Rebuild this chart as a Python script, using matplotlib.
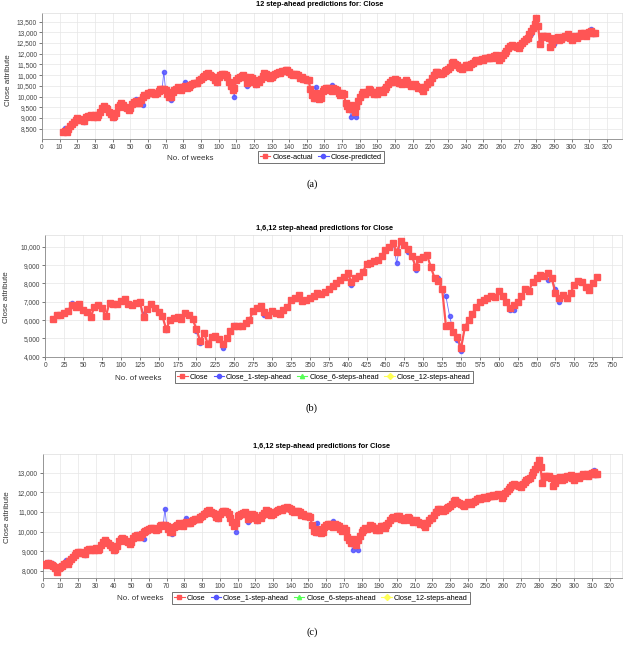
import numpy as np
import matplotlib
matplotlib.use("Agg")
import matplotlib.pyplot as plt
from matplotlib.lines import Line2D
from matplotlib.ticker import FuncFormatter, MultipleLocator

plt.rcParams['font.family'] = ['Liberation Sans', 'DejaVu Sans']

# ---------------- data: weekly Close, weeks 1..313 (panels a and c) ----------------
close_ac = [
    8350, 8300, 8380, 8330, 8280, 8220, 8120, 7950, 8150, 8200,
    8250, 8330, 8400, 8350, 8500, 8620, 8720, 8820, 8900, 8980,
    8960, 8920, 8900, 8850, 9050, 9100, 9080, 9120, 9060, 9140,
    9050, 9120, 9300, 9480, 9550, 9460, 9400, 9300, 9200, 9060,
    9100, 9250, 9500, 9620, 9680, 9620, 9520, 9460, 9370, 9450,
    9650, 9750, 9800, 9700, 9720, 9850, 10000, 10050, 10080, 10150,
    10180, 10200, 10150, 10100, 10150, 10280, 10350, 10330, 10350, 10300,
    10120, 10000, 9980, 10220, 10300, 10350, 10450, 10400, 10300, 10450,
    10500, 10420, 10450, 10520, 10600, 10620, 10650, 10620, 10750, 10800,
    10900, 10950, 11050, 11100, 11000, 10950, 10900, 10750, 10700, 10900,
    11000, 11050, 11050, 11000, 10900, 10700, 10500, 10300, 10420, 10770,
    10850, 10900, 10950, 11000, 10900, 10650, 10800, 10900, 10850, 10700,
    10600, 10750, 10700, 10820, 10950, 11080, 11050, 10900, 10850, 10900,
    11000, 11050, 11100, 11150, 11100, 11180, 11200, 11250, 11220, 11150,
    11050, 11000, 11050, 11050, 11000, 10850, 10900, 10800, 10800, 10780,
    10750, 10350, 10050, 9950, 10150, 10050, 9900, 9950, 10250, 10350,
    10380, 10400, 10300, 10250, 10400, 10350, 10300, 10150, 10050, 10180,
    10100, 9700, 9550, 9420, 9600, 9450, 9300, 9550, 9780, 10000,
    10100, 10200, 10120, 10200, 10350, 10300, 10200, 10100, 10200, 10100,
    10300, 10280, 10200, 10350, 10450, 10600, 10700, 10750, 10700, 10800,
    10780, 10650, 10650, 10600, 10700, 10750, 10700, 10600, 10500, 10550,
    10600, 10500, 10400, 10450, 10350, 10250, 10450, 10600, 10700, 10680,
    10850, 11000, 11150, 11150, 11100, 11050, 11100, 11200, 11250, 11300,
    11400, 11550, 11620, 11500, 11450, 11400, 11350, 11300, 11400, 11480,
    11450, 11400, 11500, 11550, 11650, 11700, 11680, 11700, 11750, 11720,
    11780, 11800, 11820, 11850, 11800, 11880, 11920, 11850, 11720, 11800,
    11950, 12050, 12150, 12250, 12350, 12400, 12380, 12350, 12300, 12250,
    12400, 12500, 12600, 12700, 12750, 12900, 13050, 13200, 13400, 13650,
    13300, 12450, 12850, 12850, 12800, 12850, 12750, 12300, 12450, 12650,
    12750, 12800, 12650, 12700, 12800, 12850, 12800, 12900, 12750, 12650,
    12800, 12850, 12750, 12850, 12950, 12900, 12950, 12850, 12950, 13000,
    13050, 12950, 12950,
]
# weeks where the prediction visibly departs from the actual value
pred_ac_weeks = [3, 5, 10, 13, 14, 24, 41, 53, 57, 69, 73, 81, 99, 109, 116, 121,
                 154, 155, 164, 175, 178, 222, 234, 269, 277, 282, 290, 311, 312]
pred_ac_vals = [8450, 8420, 8150, 8550, 8500, 8800, 9000, 9880, 9620, 11150, 9850, 10700,
                10650, 10000, 10500, 10550, 9900, 10450, 10550, 9050, 9050, 11100, 11600,
                12250, 12900, 12550, 12450, 13150, 12900]

# ---------------- data: panel b, every 5 weeks from week 10 ----------------
close_b = [
    6040, 6300, 6250, 6360, 6500, 6820, 6700, 6900, 6540, 6450,
    6150, 6730, 6800, 6650, 6200, 6950, 6850, 6900, 7040, 7130,
    6900, 6820, 6950, 7000, 6150, 6600, 6900, 6650, 6460, 6200,
    5500, 6000, 6100, 6150, 6050, 6400, 6250, 6050, 5500, 4850,
    5300, 4700, 5100, 5150, 4950, 4700, 5000, 5400, 5650, 5700,
    5650, 5850, 6000, 6500, 6650, 6750, 6450, 6300, 6500, 6400,
    6350, 6550, 6700, 7100, 7200, 7350, 7050, 7100, 7200, 7300,
    7450, 7400, 7550, 7700, 7850, 8000, 8200, 8350, 8550, 8100,
    8300, 8400, 8600, 9050, 9100, 9200, 9300, 9500, 9800, 10000,
    10200, 9700, 10300, 10100, 9900, 9500, 8900, 9350, 9450, 9550,
    8900, 8300, 8150, 7700, 5700, 5750, 5350, 5100, 4450, 5600,
    6000, 6350, 6700, 7000, 7100, 7180, 7300, 7250, 7600, 7300,
    7000, 6650, 6800, 7000, 7300, 7700, 7600, 8100, 8300, 8450,
    8400, 8550, 8300, 7450, 7200, 7350, 7200, 7500, 7900, 8150,
    8050, 7800, 7650, 8000, 8350,
]
pred_b_weeks = [35, 130, 160, 200, 205, 235, 250, 290, 405, 465, 480, 490,
                520, 530, 535, 545, 550, 615, 620, 665, 675, 680]
pred_b_vals = [6950, 6350, 5450, 5400, 4750, 4500, 5750, 6300, 7900, 9100, 9700, 8750,
               8300, 7300, 6200, 4900, 4300, 6550, 6550, 8200, 7700, 7000]

RED = '#FF5555'
BLUE = '#5555FF'
GREEN = '#55FF55'
YELLOW = '#FFFF55'

W, H = 624, 645
fig = plt.figure(figsize=(W / 100, H / 100), dpi=100)


def ax_rect(l, t, r, b):
    return [l / W, 1 - b / H, (r - l) / W, (b - t) / H]


def style_axes(ax, xmax, ylo, yhi, xstep, ystep):
    ax.set_xlim(0, xmax)
    ax.set_ylim(ylo, yhi)
    ax.xaxis.set_major_locator(MultipleLocator(xstep))
    ax.yaxis.set_major_locator(MultipleLocator(ystep))
    ax.yaxis.set_major_formatter(FuncFormatter(lambda v, p: f"{int(v):,}"))
    ax.tick_params(labelsize=4.8, length=2, width=0.5, colors='#444444', pad=1.5)
    ax.grid(True, color='#e6e6e6', linewidth=0.5)
    ax.set_axisbelow(True)
    for s in ['left', 'bottom']:
        ax.spines[s].set_color('#888888')
        ax.spines[s].set_linewidth(0.6)
    for s in ['top', 'right']:
        ax.spines[s].set_color('#dddddd')
        ax.spines[s].set_linewidth(0.5)


def draw(ax, weeks, actual, pred, ms_red, lw_red):
    ax.plot(weeks, pred, color=BLUE, lw=0.6, marker='o', ms=3.0, mec=BLUE, mfc=BLUE,
            alpha=0.85, zorder=2)
    ax.plot(weeks, actual, color=RED, lw=lw_red, marker='s', ms=ms_red, mec=RED, mfc=RED,
            zorder=3)


def legend_handles(labels):
    specs = [(RED, 's'), (BLUE, 'o'), (GREEN, '^'), (YELLOW, 'D')]
    return [Line2D([0], [0], color=c, marker=m, ms=3, lw=0.8) for (c, m), _ in zip(specs, labels)]


def add_legend(ax, labels, cx, cy):
    leg = ax.legend(legend_handles(labels), labels, loc='center', ncol=len(labels),
                    bbox_to_anchor=(cx / W, 1 - cy / H), bbox_transform=fig.transFigure,
                    fontsize=5.3, frameon=True, fancybox=False, edgecolor='#333333',
                    handlelength=1.4, handletextpad=0.3, columnspacing=0.7,
                    borderpad=0.35, borderaxespad=0)
    leg.get_frame().set_linewidth(0.6)


# full weekly arrays
weeks_ac = np.arange(1, len(close_ac) + 1)
act_ac = np.array(close_ac, dtype=float)
pred_ac = act_ac.copy()
pred_ac[np.array(pred_ac_weeks) - 1] = pred_ac_vals

weeks_b = np.arange(10, 10 + 5 * len(close_b), 5)
act_b = np.array(close_b, dtype=float)
pred_b = act_b.copy()
for wk, v in zip(pred_b_weeks, pred_b_vals):
    pred_b[np.where(weeks_b == wk)[0][0]] = v

# ---------------- panel (a) ----------------
axa = fig.add_axes(ax_rect(42, 13, 622, 139))
style_axes(axa, 328.5, 8020, 13900, 10, 500)
draw(axa, weeks_ac[11:], act_ac[11:], pred_ac[11:], 4.2, 1.6)
fig.text(320 / W, 1 - 5 / H, '12 step-ahead predictions for: Close', ha='center', va='center',
         fontsize=5.3, fontweight='bold')
fig.text(9 / W, 1 - 80 / H, 'Close attribute', rotation=90, ha='center', va='center', fontsize=5.8,
         color='#333333')
fig.text(190 / W, 1 - 158 / H, 'No. of weeks', ha='center', va='center', fontsize=5.8, color='#333333')
add_legend(axa, ['Close-actual', 'Close-predicted'], 321, 157)
fig.text(312 / W, 1 - 184 / H, '(a)', ha='center', va='center', fontsize=7.5, family='Liberation Serif')

# ---------------- panel (b) ----------------
axb = fig.add_axes(ax_rect(45.3, 235, 622, 357))
style_axes(axb, 763, 3985, 10640, 25, 1000)
draw(axb, weeks_b, act_b, pred_b, 4.8, 1.6)
fig.text(325 / W, 1 - 228 / H, '1,6,12 step-ahead predictions for Close', ha='center', va='center',
         fontsize=5.3, fontweight='bold')
fig.text(7 / W, 1 - 297 / H, 'Close attribute', rotation=90, ha='center', va='center', fontsize=5.8,
         color='#333333')
fig.text(138 / W, 1 - 378 / H, 'No. of weeks', ha='center', va='center', fontsize=5.8, color='#333333')
add_legend(axb, ['Close', 'Close_1-step-ahead', 'Close_6-steps-ahead', 'Close_12-steps-ahead'], 324, 377)
fig.text(312 / W, 1 - 408 / H, '(b)', ha='center', va='center', fontsize=7.5, family='Liberation Serif')

# ---------------- panel (c) ----------------
axc = fig.add_axes(ax_rect(42.7, 454, 622, 578))
style_axes(axc, 327, 7630, 13950, 10, 1000)
draw(axc, weeks_ac, act_ac, pred_ac, 4.2, 1.6)
fig.text(322 / W, 1 - 447 / H, '1,6,12 step-ahead predictions for Close', ha='center', va='center',
         fontsize=5.3, fontweight='bold')
fig.text(8 / W, 1 - 517 / H, 'Close attribute', rotation=90, ha='center', va='center', fontsize=5.8,
         color='#333333')
fig.text(140 / W, 1 - 598 / H, 'No. of weeks', ha='center', va='center', fontsize=5.8, color='#333333')
add_legend(axc, ['Close', 'Close_1-step-ahead', 'Close_6-steps-ahead', 'Close_12-steps-ahead'], 321, 598)
fig.text(312 / W, 1 - 632 / H, '(c)', ha='center', va='center', fontsize=7.5, family='Liberation Serif')

fig.savefig('out.png', dpi=100, facecolor='white')
